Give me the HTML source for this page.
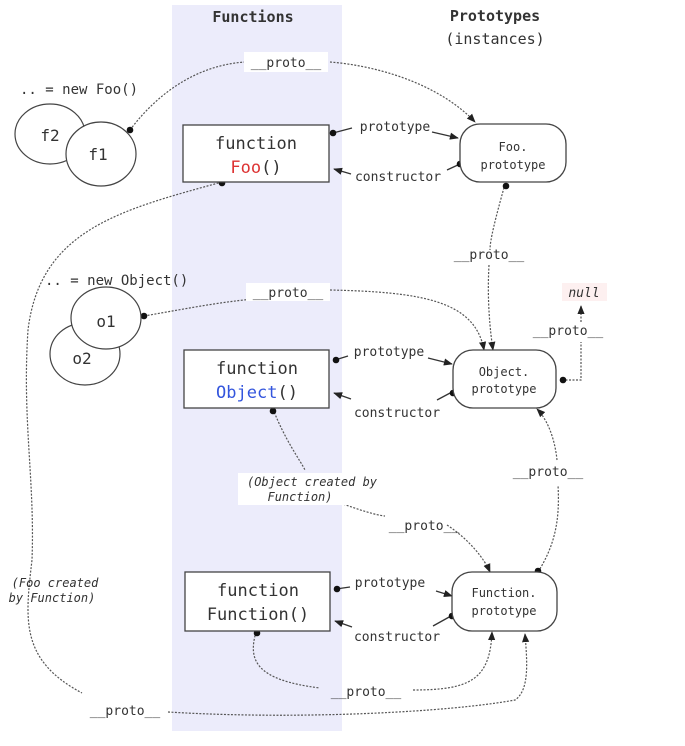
<!DOCTYPE html>
<html><head><meta charset="utf-8"><style>
html,body{margin:0;padding:0;background:#fff;}
svg{display:block;}
text{font-family:"DejaVu Sans Mono","Liberation Mono",monospace;fill:#333;}
</style></head><body>
<svg width="685" height="746" viewBox="0 0 685 746" xmlns="http://www.w3.org/2000/svg">
<defs>
<marker id="a" viewBox="0 0 10 10" refX="9" refY="5" markerWidth="9" markerHeight="9" orient="auto-start-reverse" markerUnits="userSpaceOnUse"><path d="M0,1 L10,5 L0,9 z" fill="#222"/></marker>
</defs>
<rect x="172" y="5" width="170" height="726" fill="#ececfb"/>
<text x="253" y="22" font-size="15" font-weight="bold" text-anchor="middle" fill="#222">Functions</text>
<text x="495" y="21" font-size="15" font-weight="bold" text-anchor="middle" fill="#222">Prototypes</text>
<text x="495" y="44" font-size="15" text-anchor="middle" fill="#222">(instances)</text>

<g fill="none" stroke="#555" stroke-width="1.2" stroke-dasharray="2,1.5">
<!-- f1 proto -> Foo.prototype -->
<path d="M130,130 C160,90 200,65 245,62"/>
<path d="M330,62 C380,66 440,85 475,122" marker-end="url(#a)"/>
<!-- Foo() proto long curve -->
<path d="M222,182 C120,210 40,230 28,330 C22,420 35,480 32,560 C25,620 20,660 82,693"/>
<path d="M168,712 C300,720 450,712 515,700 C530,690 527,660 525,634" marker-end="url(#a)"/>
<!-- Foo.prototype -> Object.prototype -->
<path d="M505,184 C495,220 490,240 490,250"/>
<path d="M489,265 C487,300 490,330 493,350" marker-end="url(#a)"/>
<!-- o1 proto -->
<path d="M144,316 C190,308 230,300 268,298"/>
<path d="M330,290 C420,292 475,300 484,350" marker-end="url(#a)"/>
<!-- Object.prototype -> null -->
<path d="M562,380 L581,380 L581,342"/>
<path d="M581,322 L581,306" marker-end="url(#a)"/>
<!-- Object() -> Function.prototype -->
<path d="M273,409 C285,440 300,460 305,470"/>
<path d="M340,503 C360,510 375,515 385,516"/>
<path d="M447,525 C470,540 485,560 490,572" marker-end="url(#a)"/>
<!-- Function.prototype -> Object.prototype -->
<path d="M538,572 C555,545 560,520 558,485"/>
<path d="M557,460 C555,440 548,420 537,409" marker-end="url(#a)"/>
<!-- Function() proto -->
<path d="M256,632 C248,660 255,680 320,688"/>
<path d="M413,690 C470,690 490,680 492,632" marker-end="url(#a)"/>
</g>
<!-- solid connectors -->
<g fill="none" stroke="#333" stroke-width="1.3">
<path d="M333,133 L352,128"/>
<path d="M432,132 L458,138" marker-end="url(#a)"/>
<path d="M351,174 L334,169" marker-end="url(#a)"/>
<path d="M447,170 L460,164"/>
<path d="M335,360 L348,356"/>
<path d="M428,358 L452,364" marker-end="url(#a)"/>
<path d="M351,399 L334,393" marker-end="url(#a)"/>
<path d="M437,400 L452,392"/>
<path d="M336,589 L350,587"/>
<path d="M436,591 L452,596" marker-end="url(#a)"/>
<path d="M352,627 L335,621" marker-end="url(#a)"/>
<path d="M433,626 L451,616"/>
</g>
<g fill="#111">
<circle cx="130" cy="130" r="3.3"/><circle cx="333" cy="133" r="3.3"/><circle cx="460" cy="164" r="3.3"/>
<circle cx="222" cy="183" r="3.3"/><circle cx="506" cy="186" r="3.3"/><circle cx="144" cy="316" r="3.3"/>
<circle cx="336" cy="360" r="3.3"/><circle cx="453" cy="393" r="3.3"/><circle cx="563" cy="380" r="3.3"/>
<circle cx="273" cy="411" r="3.3"/><circle cx="337" cy="589" r="3.3"/><circle cx="452" cy="616" r="3.3"/>
<circle cx="538" cy="571" r="3.3"/><circle cx="257" cy="633" r="3.3"/>
</g>

<!-- labels with white bg -->
<rect x="244" y="52" width="84" height="20" fill="#fff"/>
<text x="286" y="67" font-size="13" text-anchor="middle">__proto__</text>
<rect x="246" y="283" width="84" height="18" fill="#fff"/>
<text x="288" y="297" font-size="13" text-anchor="middle">__proto__</text>
<text x="395" y="131" font-size="13" text-anchor="middle">prototype</text>
<text x="398" y="181" font-size="13" text-anchor="middle">constructor</text>
<text x="489" y="259" font-size="13" text-anchor="middle">__proto__</text>
<rect x="562" y="283" width="45" height="18" fill="#fdf0f0"/>
<text x="584" y="297" font-size="13" font-style="italic" text-anchor="middle">null</text>
<text x="568" y="335" font-size="13" text-anchor="middle">__proto__</text>
<text x="389" y="356" font-size="13" text-anchor="middle">prototype</text>
<text x="397" y="417" font-size="13" text-anchor="middle">constructor</text>
<text x="548" y="476" font-size="13" text-anchor="middle">__proto__</text>
<rect x="238" y="473" width="147" height="32" fill="#fff"/>
<text x="312" y="486" font-size="12" font-style="italic" text-anchor="middle">(Object created by</text>
<text x="300" y="501" font-size="12" font-style="italic" text-anchor="middle">Function)</text>
<text x="424" y="530" font-size="13" text-anchor="middle">__proto__</text>
<text x="390" y="587" font-size="13" text-anchor="middle">prototype</text>
<text x="397" y="641" font-size="13" text-anchor="middle">constructor</text>
<text x="366" y="696" font-size="13" text-anchor="middle">__proto__</text>
<text x="125" y="715" font-size="13" text-anchor="middle">__proto__</text>
<text x="55" y="587" font-size="12" font-style="italic" text-anchor="middle">(Foo created</text>
<text x="52" y="602" font-size="12" font-style="italic" text-anchor="middle">by Function)</text>

<text x="20" y="94" font-size="14">.. = new Foo()</text>
<text x="45" y="285" font-size="14">.. = new Object()</text>

<!-- circles -->
<g stroke="#444" stroke-width="1.2" fill="#fff">
<ellipse cx="50" cy="134" rx="35" ry="30"/>
<ellipse cx="101" cy="154" rx="35" ry="32"/>
<ellipse cx="85" cy="354" rx="35" ry="31"/>
<ellipse cx="106" cy="318" rx="35" ry="31"/>
</g>
<text x="50" y="141" font-size="16" text-anchor="middle">f2</text>
<text x="98" y="160" font-size="16" text-anchor="middle" fill="#d33">f1</text>
<text x="106" y="327" font-size="16" text-anchor="middle" fill="#3355dd">o1</text>
<text x="82" y="364" font-size="16" text-anchor="middle">o2</text>

<!-- function boxes -->
<g stroke="#444" stroke-width="1.3" fill="#fff">
<rect x="183" y="125" width="146" height="57"/>
<rect x="184" y="350" width="145" height="58"/>
<rect x="185" y="572" width="145" height="59"/>
<rect x="460" y="124" width="106" height="58" rx="20"/>
<rect x="453" y="350" width="103" height="58" rx="20"/>
<rect x="452" y="572" width="105" height="59" rx="20"/>
</g>
<text x="256" y="149" font-size="17" text-anchor="middle">function</text>
<text x="256" y="173" font-size="17" text-anchor="middle"><tspan fill="#d33">Foo</tspan>()</text>
<text x="257" y="374" font-size="17" text-anchor="middle">function</text>
<text x="257" y="398" font-size="17" text-anchor="middle"><tspan fill="#3355dd">Object</tspan>()</text>
<text x="258" y="596" font-size="17" text-anchor="middle">function</text>
<text x="258" y="620" font-size="17" text-anchor="middle">Function()</text>
<text x="513" y="151" font-size="12" text-anchor="middle">Foo.</text>
<text x="513" y="169" font-size="12" text-anchor="middle">prototype</text>
<text x="504" y="376" font-size="12" text-anchor="middle">Object.</text>
<text x="504" y="393" font-size="12" text-anchor="middle">prototype</text>
<text x="504" y="597" font-size="12" text-anchor="middle">Function.</text>
<text x="504" y="615" font-size="12" text-anchor="middle">prototype</text>
</svg>
</body></html>
